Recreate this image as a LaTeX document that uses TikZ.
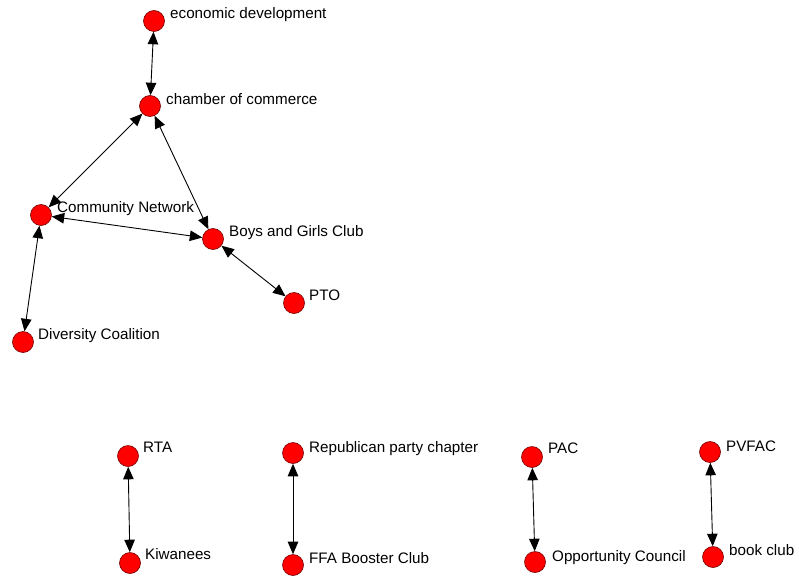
\documentclass[tikz,border=0pt]{standalone}
\usepackage{fontspec}
\setmainfont{Liberation Sans}
\usetikzlibrary{arrows.meta}
\tikzset{
  actor/.style={circle, fill=red, draw=red!45!black, line width=0.6pt, minimum size=21pt, inner sep=0pt},
  tag/.style={anchor=base west, inner sep=0pt, font=\fontsize{15.2}{17}\selectfont},
  tie/.style={line width=0.9pt, {Triangle[length=12.5pt,width=10.5pt]}-{Triangle[length=12.5pt,width=10.5pt]}}
}
\begin{document}
\begin{tikzpicture}[x=1pt, y=-1pt]
\useasboundingbox (0,0) rectangle (799,575);

% actors
\node[actor] (econ) at (154,21) {};
\node[actor] (chamber) at (150,106) {};
\node[actor] (cn) at (41,215) {};
\node[actor] (bgc) at (213,239) {};
\node[actor] (pto) at (294,303) {};
\node[actor] (div) at (23,342) {};
\node[actor] (rta) at (128,456) {};
\node[actor] (kiw) at (130,563) {};
\node[actor] (rep) at (293,453) {};
\node[actor] (ffa) at (293,565) {};
\node[actor] (pac) at (532,457) {};
\node[actor] (opp) at (535,562) {};
\node[actor] (pvfac) at (710,452) {};
\node[actor] (book) at (713,557) {};

% ties
\draw[tie] (econ) -- (chamber);
\draw[tie] (chamber) -- (cn);
\draw[tie] (chamber) -- (bgc);
\draw[tie] (cn) -- (bgc);
\draw[tie] (cn) -- (div);
\draw[tie] (bgc) -- (pto);
\draw[tie] (rta) -- (kiw);
\draw[tie] (rep) -- (ffa);
\draw[tie] (pac) -- (opp);
\draw[tie] (pvfac) -- (book);

% labels
\node[tag] (l-econ) at (170,19) {economic development};
\node[tag] (l-chamber) at (166,104) {chamber of commerce};
\node[tag] (l-cn) at (57,212) {Community Network};
\node[tag] (l-bgc) at (229,236) {Boys and Girls Club};
\node[tag] (l-pto) at (309,300) {PTO};
\node[tag] (l-div) at (38,339) {Diversity Coalition};
\node[tag] (l-rta) at (143,452) {RTA};
\node[tag] (l-kiw) at (145,559) {Kiwanees};
\node[tag] (l-rep) at (309,452) {Republican party chapter};
\node[tag] (l-ffa) at (309,563) {FFA Booster Club};
\node[tag] (l-pac) at (548,453) {PAC};
\node[tag] (l-opp) at (552,561) {Opportunity Council};
\node[tag] (l-pvfac) at (726,451) {PVFAC};
\node[tag] (l-book) at (729,555) {book club};
\end{tikzpicture}
\end{document}
